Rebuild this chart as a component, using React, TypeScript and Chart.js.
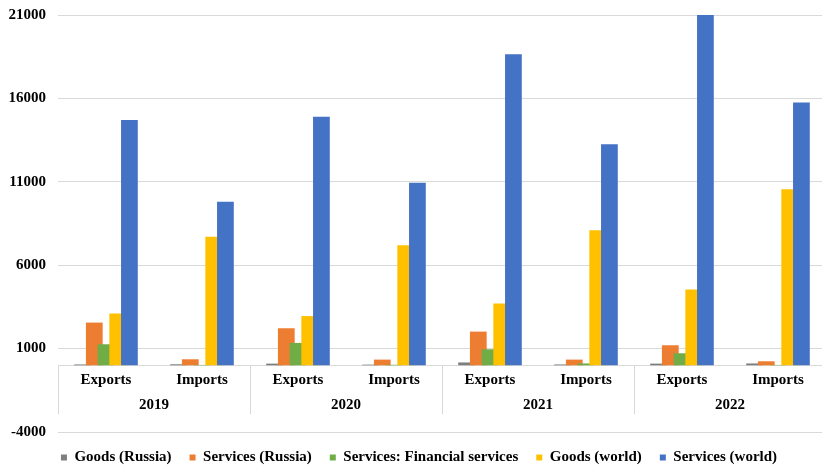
import { useEffect, useRef } from 'react';
import { Chart, registerables } from 'chart.js';

Chart.register(...registerables);

const years = ['2019', '2020', '2021', '2022'];
const flows = ['Exports', 'Imports'];
const seriesNames = [
  'Goods (Russia)',
  'Services (Russia)',
  'Services: Financial services',
  'Goods (world)',
  'Services (world)',
];
const goodsRussia = [50, 60, 100, 40, 170, 50, 100, 110];
const servicesRussia = [2560, 360, 2220, 340, 2020, 340, 1200, 240];
const financialServices = [1260, 20, 1340, 30, 960, 110, 720, 20];
const goodsWorld = [3100, 7700, 2950, 7200, 3700, 8100, 4550, 10550];
const servicesWorld = [14700, 9800, 14900, 10950, 18650, 13250, 21000, 15750];
const yMin = -4000;
const yMax = 21000;
const yStep = 5000;

const colors = ['#7F7F7F', '#ED7D31', '#70AD47', '#FFC000', '#4472C4'];
const FONT = "'Liberation Serif', 'Times New Roman', serif";
const GRID = '#D9D9D9';

const drawOrderPlugin = {
  id: 'drawOrder',
  beforeDatasetsDraw(chart: any) {
    const { ctx, chartArea } = chart;
    ctx.save();
    ctx.beginPath();
    ctx.rect(chartArea.left, chartArea.top, chartArea.right - chartArea.left, chartArea.bottom - chartArea.top);
    ctx.clip();
    for (let i = 0; i < chart.data.datasets.length; i++) {
      const meta = chart.getDatasetMeta(i);
      if (!meta.hidden && meta.controller) meta.controller.draw();
    }
    ctx.restore();
    return false;
  },
};

const groupPlugin = {
  id: 'groupLabels',
  afterDraw(chart: any) {
    const { ctx } = chart;
    const xs = chart.scales.x;
    const ys = chart.scales.y;
    const y0 = ys.getPixelForValue(0);
    ctx.save();
    ctx.strokeStyle = GRID;
    ctx.lineWidth = 1;
    for (let g = 0; g <= years.length; g++) {
      const px = Math.round(xs.getPixelForValue(g * flows.length - 0.5)) + 0.5;
      ctx.beginPath();
      ctx.moveTo(px, y0);
      ctx.lineTo(px, y0 + 49);
      ctx.stroke();
    }
    ctx.fillStyle = '#000';
    ctx.font = `bold 15px ${FONT}`;
    ctx.textAlign = 'center';
    ctx.textBaseline = 'alphabetic';
    years.forEach((yr, g) => {
      const a = xs.getPixelForValue(g * flows.length);
      const b = xs.getPixelForValue(g * flows.length + flows.length - 1);
      ctx.fillText(yr, (a + b) / 2, y0 + 44);
    });
    ctx.restore();
  },
};

export default function App() {
  const ref = useRef<HTMLCanvasElement>(null);
  useEffect(() => {
    if (!ref.current) return;
    const labels = years.flatMap(() => flows);
    const values = [goodsRussia, servicesRussia, financialServices, goodsWorld, servicesWorld];
    const chart = new Chart(ref.current, {
      type: 'bar',
      data: {
        labels,
        datasets: values.map((data, i) => ({
          label: seriesNames[i],
          data,
          backgroundColor: colors[i],
          borderWidth: 0,
          categoryPercentage: 0.61,
          barPercentage: 1.43,
        })),
      },
      options: {
        responsive: false,
        animation: false,
        layout: { padding: { left: 0, right: 0, top: 15, bottom: 0 } },
        plugins: {
          tooltip: { enabled: false },
          legend: {
            position: 'bottom',
            align: 'center',
            labels: {
              boxWidth: 6,
              boxHeight: 6,
              padding: 18,
              color: '#000',
              font: { family: FONT, size: 15, weight: 'bold' },
            },
          },
        },
        scales: {
          x: {
            position: { y: 0 } as any,
            grid: { display: false, drawTicks: false },
            border: { display: true, color: GRID, width: 1 },
            ticks: {
              autoSkip: false,
              maxRotation: 0,
              padding: 6,
              color: '#000',
              font: { family: FONT, size: 15, weight: 'bold' },
            },
          },
          y: {
            min: yMin,
            max: yMax,
            afterFit(scale: any) {
              scale.width = 58;
              scale.paddingTop = 0;
              scale.paddingBottom = 0;
            },
            grid: { color: GRID, lineWidth: 1, drawTicks: false },
            border: { display: false },
            ticks: {
              stepSize: yStep,
              padding: 12,
              color: '#000',
              font: { family: FONT, size: 15, weight: 'bold' },
              callback: (v: any) => String(v),
            },
          },
          yPad: {
            type: 'linear',
            position: 'right',
            display: true,
            afterFit(scale: any) {
              scale.width = 12;
              scale.paddingTop = 0;
              scale.paddingBottom = 0;
            },
            grid: { display: false, drawTicks: false },
            border: { display: false },
            ticks: { display: false },
          },
        },
      },
      plugins: [drawOrderPlugin, groupPlugin],
    });
    return () => chart.destroy();
  }, []);
  return (
    <div style={{ position: 'fixed', left: 0, top: 0, width: 822, height: 465, overflow: 'hidden', background: '#fff' }}>
      <canvas ref={ref} width={838} height={475} style={{ display: 'block', width: 838, height: 475 }} />
    </div>
  );
}
